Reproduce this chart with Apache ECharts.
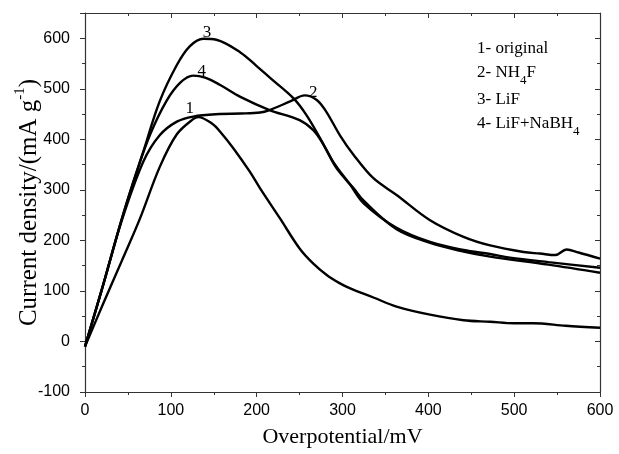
<!DOCTYPE html>
<html>
<head>
<meta charset="utf-8">
<script src="https://cdn.jsdelivr.net/npm/echarts@6/dist/echarts.min.js"></script>
<style>
  html, body { margin: 0; padding: 0; background: #fff; }
  #chart { width: 619px; height: 454px; }
</style>
</head>
<body>
<div id="chart"></div>
<script>
// 1- original
const xOriginal = [0, 20, 43, 64, 87, 107, 126, 132, 149, 157, 173, 192, 204, 227, 250, 266, 282, 296, 309, 336, 363, 402, 441, 472, 500, 522, 560, 600]
const yOriginal = [-10, 70, 160, 243, 345, 410, 440, 444, 430, 416, 382, 336, 303, 244, 184, 154, 131, 116, 105, 87, 69, 53, 42, 39, 36, 36, 31, 27]
// 2- NH4F
const xNH4F = [0, 20, 43, 68, 87, 107, 126, 157, 181, 204, 215, 239, 256, 270, 281, 297, 313, 336, 363, 402, 441, 472, 511, 530, 548, 561, 575, 600]
const yNH4F = [-10, 105, 240, 356, 408, 435, 445, 450, 451, 453, 458, 475, 487, 478, 455, 408, 369, 323, 290, 240, 207, 190, 177, 174, 171, 182, 176, 164]
// 3- LiF
const xLiF = [0, 20, 43, 68, 87, 107, 122, 138, 153, 181, 200, 216, 243, 258, 274, 289, 309, 325, 363, 402, 441, 472, 495, 540, 600]
const yLiF = [-10, 105, 243, 376, 475, 547, 584, 599, 597, 572, 545, 521, 481, 448, 402, 356, 310, 273, 225, 197, 181, 173, 166, 157, 146]
// 4- LiF+NaBH4
const xLiFNaBH4 = [0, 20, 43, 60, 76, 95, 111, 126, 140, 157, 181, 215, 250, 266, 278, 293, 313, 325, 363, 402, 441, 472, 540, 600]
const yLiFNaBH4 = [-10, 105, 243, 335, 410, 476, 512, 526, 522, 508, 484, 458, 438, 418, 389, 343, 303, 278, 222, 195, 178, 168, 152, 136]

const curveTags = ['1', '2', '3', '4']
const tagPos = [[122, 461], [266, 492], [142, 612], [136, 535]]
const legendLines = [
  '1- original',
  '2- NH{s|4}F',
  '3- LiF',
  '4- LiF+NaBH{s|4}'
]

const serif = '"Liberation Serif", "Times New Roman", serif'
const sans = '"Liberation Sans", Arial, sans-serif'

function zip(xs, ys) {
  return xs.map((x, i) => [x, ys[i]])
}

const chart = echarts.init(document.getElementById('chart'))

const lineStyle = { color: '#000', width: 2.4 }

function makeSeries(name, data, idx) {
  return {
    name: name,
    type: 'line',
    data: data,
    smooth: 0.35,
    showSymbol: false,
    lineStyle: lineStyle,
    silent: true,
    markPoint: {
      symbol: 'circle',
      symbolSize: 1,
      silent: true,
      itemStyle: { color: 'rgba(0,0,0,0)' },
      label: {
        show: true,
        position: 'inside',
        formatter: curveTags[idx],
        color: '#000',
        fontFamily: serif,
        fontSize: 17
      },
      data: [{ coord: tagPos[idx] }]
    }
  }
}

const axisLine = { show: true, onZero: false, lineStyle: { color: '#333', width: 1.2 } }

const option = {
  animation: false,
  grid: { left: 85, right: 19, top: 13, bottom: 62, outerBoundsMode: 'none' },
  xAxis: [
    {
      type: 'value',
      min: 0,
      max: 600,
      interval: 100,
      name: 'Overpotential/mV',
      nameLocation: 'middle',
      nameGap: 34,
      nameTextStyle: { fontFamily: serif, fontSize: 22, color: '#000' },
      axisLine: axisLine,
      axisTick: { show: true, inside: false, length: 5, lineStyle: { color: '#333' } },
      minorTick: { show: true, splitNumber: 2, length: 3, lineStyle: { color: '#333' } },
      axisLabel: { fontFamily: sans, fontSize: 16, color: '#000', margin: 11 },
      splitLine: { show: false }
    },
    {
      type: 'value',
      position: 'top',
      min: 0,
      max: 600,
      interval: 100,
      axisLine: axisLine,
      axisTick: { show: true, inside: true, length: 5, lineStyle: { color: '#333' } },
      minorTick: { show: true, splitNumber: 2, length: 3, lineStyle: { color: '#333' } },
      axisLabel: { show: false },
      splitLine: { show: false }
    }
  ],
  yAxis: [
    {
      type: 'value',
      min: -100,
      max: 650,
      interval: 100,
      name: 'Current density/(mA g{sup|-1})',
      nameLocation: 'middle',
      nameGap: 40,
      nameMoveOverlap: false,
      nameTextStyle: {
        fontFamily: serif,
        fontSize: 25,
        color: '#000',
        lineHeight: 32,
        verticalAlign: 'bottom',
        rich: {
          sup: { fontFamily: serif, fontSize: 15, color: '#000', lineHeight: 18, verticalAlign: 'top' }
        }
      },
      axisLine: axisLine,
      axisTick: { show: true, inside: false, length: 5, lineStyle: { color: '#333' } },
      minorTick: { show: true, splitNumber: 2, length: 3, lineStyle: { color: '#333' } },
      axisLabel: {
        fontFamily: sans,
        fontSize: 16,
        color: '#000',
        margin: 15,
        formatter: (v) => (v > 600 ? '' : String(v))
      },
      splitLine: { show: false }
    },
    {
      type: 'value',
      position: 'right',
      min: -100,
      max: 650,
      interval: 100,
      axisLine: axisLine,
      axisTick: { show: true, inside: true, length: 5, lineStyle: { color: '#333' } },
      minorTick: { show: true, splitNumber: 2, length: 3, lineStyle: { color: '#333' } },
      axisLabel: { show: false },
      splitLine: { show: false }
    }
  ],
  graphic: legendLines.map((t, i) => ({
    type: 'text',
    left: 477,
    top: 40 + i * 24 + (i >= 2 ? 3 : 0),
    silent: true,
    style: {
      text: t,
      fontFamily: serif,
      fontSize: 17,
      fill: '#000',
      rich: {
        s: { fontFamily: serif, fontSize: 13, fill: '#000', lineHeight: 29, verticalAlign: 'bottom' }
      }
    }
  })),
  series: [
    makeSeries('1- original', zip(xOriginal, yOriginal), 0),
    makeSeries('2- NH4F', zip(xNH4F, yNH4F), 1),
    makeSeries('3- LiF', zip(xLiF, yLiF), 2),
    makeSeries('4- LiF+NaBH4', zip(xLiFNaBH4, yLiFNaBH4), 3)
  ]
}

chart.setOption(option)
window.addEventListener('resize', () => {
  chart.resize()
})
</script>
</body>
</html>
